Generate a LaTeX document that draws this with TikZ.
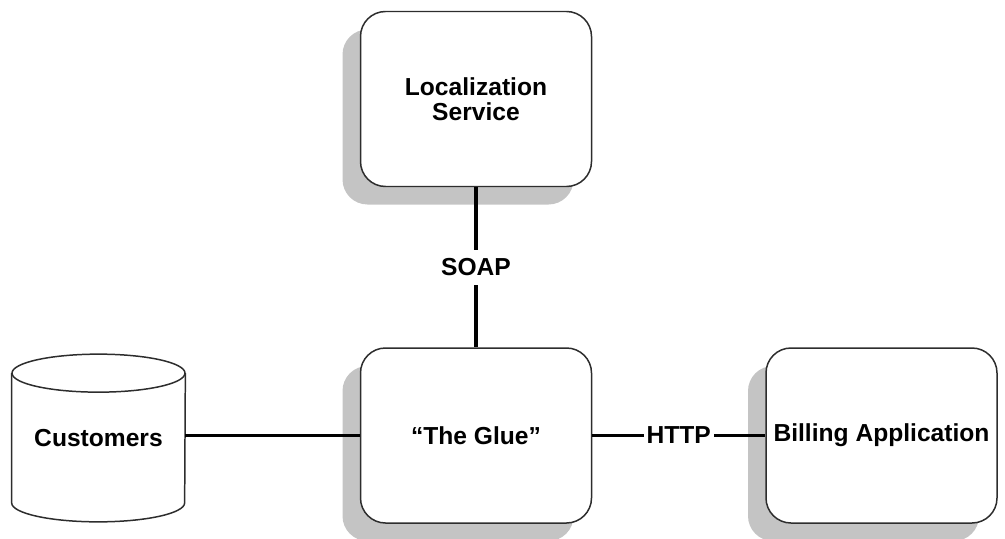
\documentclass[tikz,border=0pt]{standalone}
\usepackage{fontspec}
\setmainfont{Liberation Sans}
\usepackage{tikz}
\usetikzlibrary{shadows}
\definecolor{shadowcol}{RGB}{196,196,196}
\definecolor{edgecol}{RGB}{45,45,45}
\tikzset{
    svcbox/.style={draw=edgecol, line width=0.85pt, fill=white, rounded corners=0.5cm,
        minimum width=4.62cm, minimum height=3.5cm, align=center,
        font=\fontsize{14}{14.5}\selectfont\bfseries,
        drop shadow={shadow xshift=-0.36cm, shadow yshift=-0.36cm, fill=shadowcol, opacity=1}},
    dbbox/.style={minimum width=3.46cm, minimum height=3.34cm,
        font=\fontsize{14}{14.5}\selectfont\bfseries},
    cylline/.style={draw=edgecol, line width=0.85pt},
    wire/.style={line width=2pt},
    proto/.style={fill=white, inner xsep=1.5pt, inner ysep=5pt,
        font=\fontsize{14}{14.5}\selectfont\bfseries}
}
\begin{document}
\begin{tikzpicture}
    \useasboundingbox (0,0) rectangle (20.1,10.76);

    % Services
    \node[svcbox] (loc) at (9.52,8.78) {Localization\\Service};
    \node[svcbox] (glue) at (9.52,2.05) {``The Glue''};
    \node[svcbox] (bill) at (17.63,2.05) {Billing Application};

    % Customer database
    \node[dbbox] (cust) at (1.97,2.0) {Customers};
    \draw[cylline] ([yshift=-0.38cm]cust.north west) -- ([yshift=0.38cm]cust.south west)
        arc[start angle=180, end angle=360, x radius=1.73cm, y radius=0.38cm]
        -- ([yshift=-0.38cm]cust.north east);
    \draw[cylline] ([yshift=-0.38cm]cust.north) ellipse [x radius=1.73cm, y radius=0.38cm];

    % Connections
    \draw[wire] (cust.east |- glue.west) -- (glue.west);
    \draw[wire] (loc.south) -- node[proto] {SOAP} (glue.north);
    \draw[wire] (glue.east) -- node[proto] {HTTP} (bill.west);

\end{tikzpicture}
\end{document}
